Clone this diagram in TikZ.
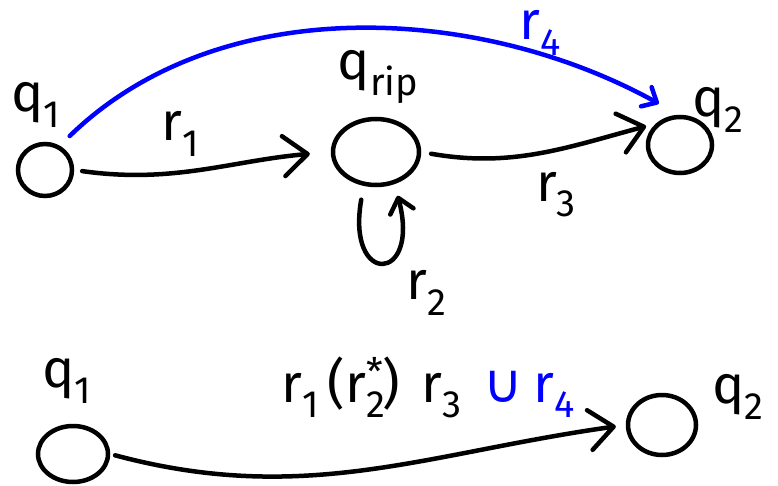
\documentclass[tikz,border=0pt]{standalone}
\usepackage{fontspec}
\setmainfont{Fira Sans}
\newfontfamily\symfont{DejaVu Sans}
\usetikzlibrary{arrows.meta,shapes.geometric}
\newcommand{\idx}[1]{\raisebox{-0.28em}{\fontsize{38}{40}\selectfont #1}}
\begin{document}
\begin{tikzpicture}[x=1pt,y=1pt]
    % Define styles
    \tikzstyle{state} = [ellipse, draw, line width=4.5pt, inner sep=0pt]
    \tikzstyle{tag} = [font=\fontsize{54}{58}\selectfont, inner sep=0pt]
    \tikzstyle{arrow} = [line width=4.5pt, line cap=round, -{Straight Barb[length=24pt,width=40pt,round]}]
    \tikzstyle{bluearrow} = [arrow, color=blue, -{Straight Barb[length=12pt,width=22pt,round]}]
    \useasboundingbox (0,0) rectangle (778,485);

    % States (before ripping)
    \node[state, minimum width=54pt, minimum height=52pt] (q1) at (45,315) {};
    \node[state, minimum width=86pt, minimum height=66pt] (qrip) at (376,333) {};
    \node[state, minimum width=64pt, minimum height=56pt] (q2) at (680,340) {};

    % Labels
    \node[tag] (lq1) at (36,380) {q\idx{1}};
    \node[tag] (lqrip) at (378,408) {q\idx{rip}};
    \node[tag] (lq2) at (718,375) {q\idx{2}};
    \node[tag] (lr1) at (180,351) {r\idx{1}};
    \node[tag] (lr2) at (426,192) {r\idx{2}};
    \node[tag] (lr3) at (556,290) {r\idx{3}};
    \node[tag, text=blue] (lr4) at (540,452) {r\idx{4}};

    % Connections
    \draw[arrow, shorten <=8pt, shorten >=21pt] (q1.east) to[out=-8, in=185] (qrip.west);
    \draw[arrow, shorten <=10pt, shorten >=10pt] (qrip.east) to[out=-10, in=195] (q2.north west);
    \draw[arrow, -{Straight Barb[length=14pt,width=24pt,round]}, shorten <=14pt, shorten >=12pt] (qrip.250) to[out=-100, in=-75, looseness=8.5] (qrip.300);
    \draw[bluearrow] ([shift={(4pt,14pt)}]q1.north east) .. controls (220,495) and (480,480) .. ([shift={(3pt,20pt)}]q2.north west);

    % States (after ripping)
    \node[state, minimum width=70pt, minimum height=56pt] (q1b) at (73,31) {};
    \node[state, minimum width=68pt, minimum height=60pt] (q2b) at (662,60) {};
    \node[tag] (lq1b) at (67,104) {q\idx{1}};
    \node[tag] (lq2b) at (738,88) {q\idx{2}};
    \node[tag] (lrb) at (428,98) {r\idx{1}\,(r\rlap{\idx{2}}\raisebox{0.3em}{\fontsize{38}{40}\selectfont *})\hspace{0.4em}r\idx{3}\hspace{0.4em}\textcolor{blue}{{\symfont ∪}\hspace{0.2em}r\idx{4}}};
    \draw[arrow, shorten <=5pt, shorten >=10pt] (q1b.east) to[out=-15, in=188] (q2b.west);
\end{tikzpicture}
\end{document}
